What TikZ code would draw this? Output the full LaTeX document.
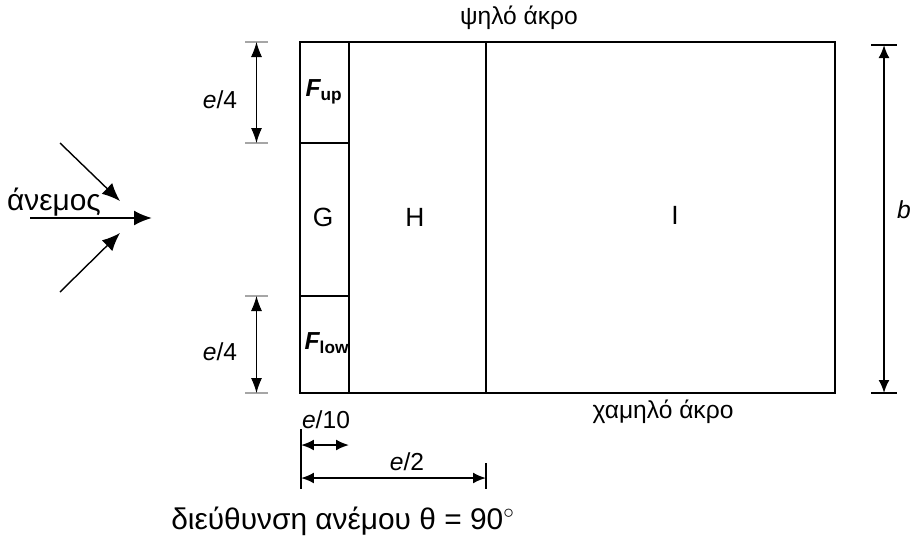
\documentclass[tikz,border=0pt]{standalone}
\usepackage{fontspec}
\setmainfont{Liberation Sans}
\usetikzlibrary{arrows.meta,positioning,calc}
\newcommand{\zoneF}[1]{{\bfseries\itshape F}\textsubscript{\bfseries #1}}

\begin{document}
\begin{tikzpicture}[x=0.02cm,y=-0.02cm,font=\fontsize{14}{16}\selectfont,
  wall/.style={line width=0.8pt},
  dimtick/.style={line width=0.6pt},
  bigtext/.style={font=\fontsize{17}{19}\selectfont},
  dimleft/.style={{Latex[length=3mm,width=2.2mm]}-{Latex[length=3mm,width=2.2mm]},line width=0.5pt},
  dimbold/.style={{Latex[length=2.6mm,width=2.2mm]}-{Latex[length=2.6mm,width=2.2mm]},line width=1.1pt},
  wind/.style={-{Latex[length=3.6mm,width=3mm]},line width=0.8pt}]
  \useasboundingbox (0,0) rectangle (914,538);

  % roof plan
  \coordinate (NW) at (300,42);
  \coordinate (SE) at (835,393);
  \draw[wall] (NW) rectangle (SE);
  \coordinate (s1) at (349,42);  \coordinate (s2) at (349,393);
  \coordinate (h1) at (486,42);  \coordinate (h2) at (486,393);
  \draw[wall] (s1) -- (s2);
  \draw[wall] (h1) -- (h2);
  \coordinate (g1) at (300,143); \coordinate (g2) at (349,143);
  \coordinate (g3) at (300,296); \coordinate (g4) at (349,296);
  \draw[wall] (g1) -- (g2);
  \draw[wall] (g3) -- (g4);

  \node (Fup) at (324,92) {\zoneF{up}};
  \node[font=\fontsize{15}{17}\selectfont] (G) at (323,217) {G};
  \node[font=\fontsize{15}{17}\selectfont] (H) at (415,217) {H};
  \node[font=\fontsize{15}{17}\selectfont] (I) at (675,215) {I};
  \node (Flow) at (327,343) {\zoneF{low}};
  \node (high) at (519,18) {ψηλό άκρο};
  \node (low) at (663,412) {χαμηλό άκρο};

  % wind
  \coordinate (w0) at (30,218);  \coordinate (w1) at (152,218);
  \coordinate (u0) at (60,143);  \coordinate (u1) at (120,201);
  \coordinate (d0) at (60,292);  \coordinate (d1) at (120,233);
  \draw[wind,line width=1.2pt] (w0) -- (w1);
  \draw[wind] (u0) -- (u1);
  \draw[wind] (d0) -- (d1);
  \node[bigtext] (wind) at (54,202) {άνεμος};

  % left dimensions
  \coordinate (t1a) at (245,42);  \coordinate (t1b) at (268,42);
  \coordinate (t2a) at (245,143); \coordinate (t2b) at (268,143);
  \coordinate (t3a) at (245,296); \coordinate (t3b) at (268,296);
  \coordinate (t4a) at (245,393); \coordinate (t4b) at (268,393);
  \foreach \t in {1,...,4}
    \draw[gray!70,dimtick] (t\t a) -- (t\t b);
  \draw[dimleft] ($(t1a)!0.5!(t1b)$) -- ($(t2a)!0.5!(t2b)$);
  \draw[dimleft] ($(t3a)!0.5!(t3b)$) -- ($(t4a)!0.5!(t4b)$);
  \node (e4up) at (220,100) {\textit{e}/4};
  \node (e4low) at (220,352) {\textit{e}/4};

  % right dimension
  \coordinate (r1a) at (871,45);  \coordinate (r1b) at (897,45);
  \coordinate (r2a) at (871,393); \coordinate (r2b) at (897,393);
  \draw[dimtick] (r1a) -- (r1b);
  \draw[dimtick] (r2a) -- (r2b);
  \draw[dimbold] ($(r1a)!0.5!(r1b)$) -- ($(r2a)!0.5!(r2b)$);
  \node (b) at (904,210) {\textit{b}};

  % bottom dimensions
  \coordinate (b1a) at (301,429); \coordinate (b1b) at (301,489);
  \coordinate (b2a) at (486,463); \coordinate (b2b) at (486,489);
  \draw[dimtick] (b1a) -- (b1b);
  \draw[dimtick] (b2a) -- (b2b);
  \coordinate (e10a) at (301,445); \coordinate (e10b) at (349,445);
  \coordinate (e2a) at (301,478);  \coordinate (e2b) at (486,478);
  \draw[dimbold] (e10a) -- (e10b);
  \draw[dimbold] (e2a) -- (e2b);
  \node (e10) at (326,420) {\textit{e}/10};
  \node (e2) at (407,462) {\textit{e}/2};

  \node[bigtext] (caption) at (343,521) {διεύθυνση ανέμου θ = 90$^\circ$};
\end{tikzpicture}
\end{document}
